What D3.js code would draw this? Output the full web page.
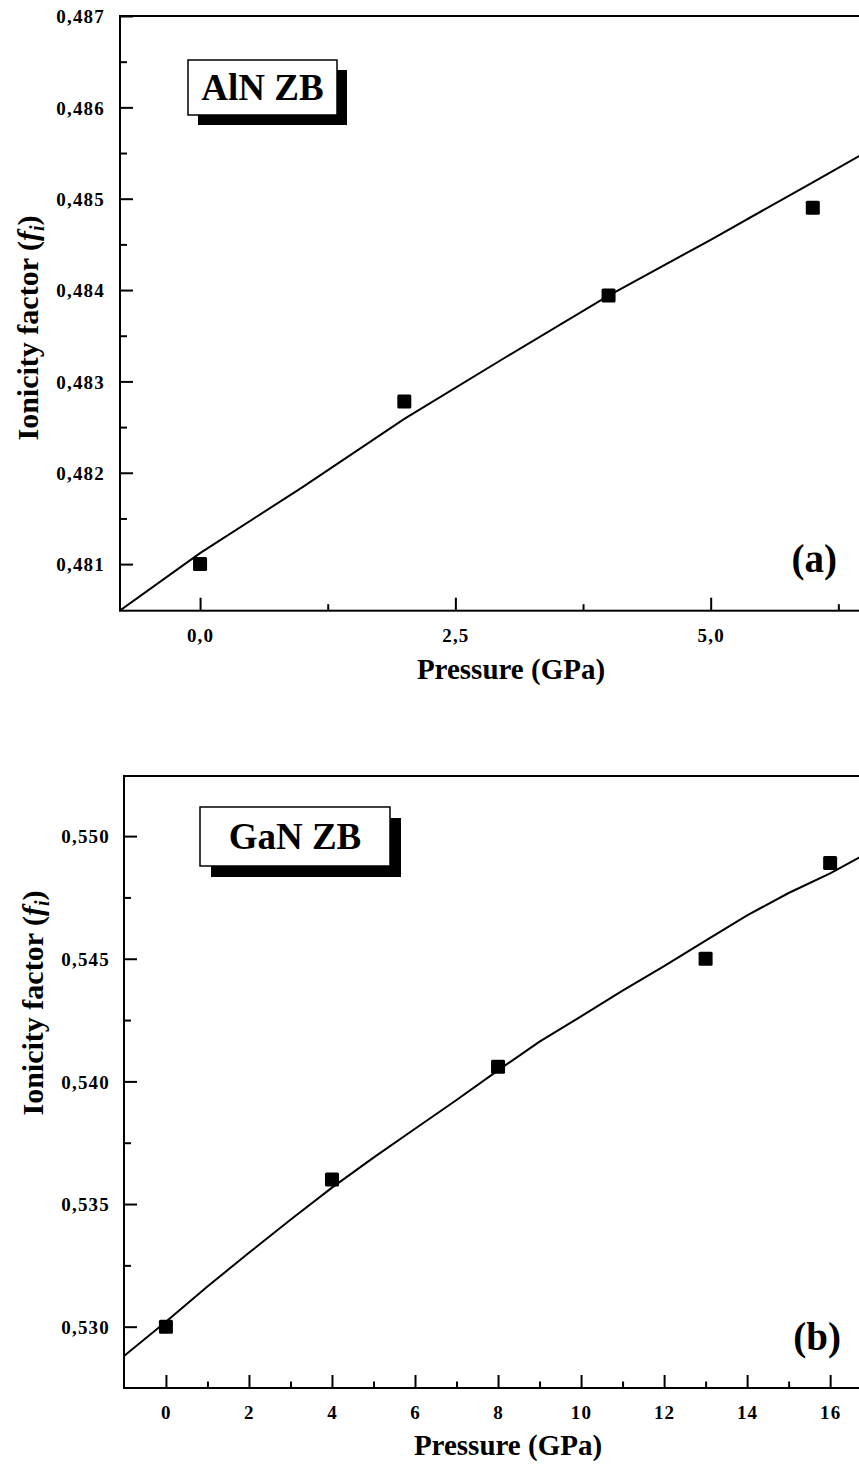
<!DOCTYPE html>
<html>
<head>
<meta charset="utf-8">
<script src="https://cdn.jsdelivr.net/npm/d3@7"></script>
<style>
  body { margin: 0; background: #fff; }
  text { font-family: "Liberation Serif", "Times New Roman", serif; font-weight: bold; fill: #000; }
</style>
</head>
<body>
<div id="chart"></div>
<script>
// AlN ZB (panel a)
var aln_pressure = [0, 2, 4, 6];
var aln_ionicity = [0.4810, 0.48278, 0.48394, 0.48490];
var aln_fit_pressure = [-0.8, 0, 1, 2, 3, 4, 5, 6, 6.6];
var aln_fit_ionicity = [0.48048, 0.48112, 0.48184, 0.48259, 0.48327, 0.48394, 0.48455, 0.48518, 0.48556];
var aln_x_ticks = [0, 2.5, 5];
var aln_x_minor = [1.25, 3.75, 6.25];
var aln_y_ticks = [0.481, 0.482, 0.483, 0.484, 0.485, 0.486, 0.487];
var aln_y_minor = [0.4815, 0.4825, 0.4835, 0.4845, 0.4855, 0.4865];

// GaN ZB (panel b)
var gan_pressure = [0, 4, 8, 13, 16];
var gan_ionicity = [0.5300, 0.5360, 0.5406, 0.5450, 0.5489];
var gan_fit_pressure = [-1.1, 0, 1, 2, 3, 4, 5, 6, 7, 8, 9, 10, 11, 12, 13, 14, 15, 16, 17];
var gan_fit_ionicity = [0.52868, 0.53020, 0.53164, 0.53301, 0.53436, 0.53567, 0.53689, 0.53807, 0.53924,
                        0.54045, 0.54162, 0.54265, 0.54370, 0.54470, 0.54574, 0.54677, 0.54768, 0.54848, 0.54940];
var gan_x_ticks = [0, 2, 4, 6, 8, 10, 12, 14, 16];
var gan_x_minor = [1, 3, 5, 7, 9, 11, 13, 15];
var gan_y_ticks = [0.530, 0.535, 0.540, 0.545, 0.550];
var gan_y_minor = [0.5325, 0.5375, 0.5425, 0.5475];

var comma = d3.formatLocale({decimal: ",", thousands: ".", grouping: [3], currency: ["", ""]});

var svg = d3.select("#chart").append("svg")
    .attr("width", 859)
    .attr("height", 1465);

function draw_panel(p) {
  var x = d3.scaleLinear().domain(p.x_domain).range([p.left, p.right]);
  var y = d3.scaleLinear().domain(p.y_domain).range([p.bottom, p.top]);

  var g = svg.append("g");

  g.append("clipPath").attr("id", p.id + "-clip")
    .append("rect")
    .attr("x", p.left).attr("y", p.top)
    .attr("width", p.right - p.left).attr("height", p.bottom - p.top);

  // axes, ticks pointing inside
  function add_axis(axis, transform, size, values, fmt) {
    var a = g.append("g")
      .attr("transform", transform)
      .call(axis.tickValues(values).tickSizeInner(-size).tickSizeOuter(0)
        .tickPadding(p.pad).tickFormat(fmt));
    a.select(".domain").remove();
    a.selectAll(".tick line").attr("stroke", "#000").attr("stroke-width", 2);
    a.selectAll(".tick text")
      .style("font-size", "19px")
      .attr("letter-spacing", "1.2px")
      .attr("fill", "#000");
    return a;
  }

  add_axis(d3.axisBottom(x), "translate(0," + p.bottom + ")", 13, p.x_ticks, p.x_fmt)
    .selectAll(".tick text").attr("dy", p.x_label_dy);
  add_axis(d3.axisBottom(x), "translate(0," + p.bottom + ")", 6.5, p.x_minor, function() { return ""; });
  add_axis(d3.axisLeft(y), "translate(" + p.left + ",0)", 13, p.y_ticks, p.y_fmt)
    .selectAll(".tick text").attr("x", p.y_label_x - p.left).attr("dy", "0.35em");
  add_axis(d3.axisLeft(y), "translate(" + p.left + ",0)", 7, p.y_minor, function() { return ""; });

  g.append("rect")
    .attr("x", p.left).attr("y", p.top)
    .attr("width", p.right - p.left).attr("height", p.bottom - p.top)
    .attr("fill", "none")
    .attr("stroke", "#000")
    .attr("stroke-width", 2);

  var fit = p.fit_x.map(function(d, i) { return [d, p.fit_y[i]]; });
  g.append("path")
    .datum(fit)
    .attr("clip-path", "url(#" + p.id + "-clip)")
    .attr("fill", "none")
    .attr("stroke", "#000")
    .attr("stroke-width", 2)
    .attr("d", d3.line().x(function(d) { return x(d[0]); }).y(function(d) { return y(d[1]); }));

  var pts = p.pts_x.map(function(d, i) { return [d, p.pts_y[i]]; });
  g.selectAll(".pt").data(pts).enter().append("rect")
    .attr("class", "pt")
    .attr("x", function(d) { return x(d[0]) - 7; })
    .attr("y", function(d) { return y(d[1]) - 7; })
    .attr("width", 14).attr("height", 14)
    .attr("rx", 1.5)
    .attr("fill", "#000");

  // material label box with drop shadow
  var b = p.box;
  g.append("rect")
    .attr("x", b.x + b.shift).attr("y", b.y + b.shift)
    .attr("width", b.w).attr("height", b.h)
    .attr("fill", "#000");
  g.append("rect")
    .attr("x", b.x).attr("y", b.y)
    .attr("width", b.w).attr("height", b.h)
    .attr("fill", "#fff")
    .attr("stroke", "#000")
    .attr("stroke-width", 1.5);
  g.append("text")
    .attr("x", b.x + b.w / 2).attr("y", b.y + b.h / 2)
    .attr("dy", "0.35em")
    .attr("text-anchor", "middle")
    .attr("font-size", 37)
    .text(b.text);

  g.append("text")
    .attr("x", p.tag_x).attr("y", p.tag_y)
    .attr("text-anchor", "end")
    .attr("font-size", 39)
    .text(p.tag);

  g.append("text")
    .attr("x", p.xtitle_x).attr("y", p.xtitle_y)
    .attr("text-anchor", "middle")
    .attr("font-size", 29)
    .text("Pressure (GPa)");

  var yt = g.append("text")
    .attr("transform", "translate(" + p.ytitle_x + "," + p.ytitle_y + ") rotate(-90)")
    .attr("text-anchor", "middle")
    .attr("font-size", 30);
  yt.append("tspan").text("Ionicity factor (");
  yt.append("tspan").attr("font-style", "italic").text("f");
  yt.append("tspan").attr("font-style", "italic").attr("font-size", 20).attr("dy", 6).text("i");
  yt.append("tspan").attr("dy", -6).text(")");
}

draw_panel({
  id: "aln", left: 120, right: 870, top: 16, bottom: 610.7,
  x_domain: [-0.784, 6.56], y_domain: [0.48049, 0.487],
  x_ticks: aln_x_ticks, x_minor: aln_x_minor, y_ticks: aln_y_ticks, y_minor: aln_y_minor,
  x_fmt: comma.format(".1f"), y_fmt: comma.format(".3f"),
  pad: 18, x_label_dy: "0.71em", y_label_x: 105,
  fit_x: aln_fit_pressure, fit_y: aln_fit_ionicity,
  pts_x: aln_pressure, pts_y: aln_ionicity,
  box: {x: 188, y: 60, w: 149, h: 55, shift: 10, text: "AlN ZB"},
  tag: "(a)", tag_x: 837, tag_y: 572,
  xtitle_x: 511, xtitle_y: 679,
  ytitle_x: 38, ytitle_y: 328
});

draw_panel({
  id: "gan", left: 124, right: 870, top: 776, bottom: 1388,
  x_domain: [-1.01, 16.96], y_domain: [0.5275, 0.55245],
  x_ticks: gan_x_ticks, x_minor: gan_x_minor, y_ticks: gan_y_ticks, y_minor: gan_y_minor,
  x_fmt: comma.format("d"), y_fmt: comma.format(".3f"),
  pad: 18, x_label_dy: "0.71em", y_label_x: 110,
  fit_x: gan_fit_pressure, fit_y: gan_fit_ionicity,
  pts_x: gan_pressure, pts_y: gan_ionicity,
  box: {x: 200, y: 807, w: 190, h: 59, shift: 11, text: "GaN ZB"},
  tag: "(b)", tag_x: 841, tag_y: 1350,
  xtitle_x: 508, xtitle_y: 1455,
  ytitle_x: 43, ytitle_y: 1003
});
</script>
</body>
</html>
